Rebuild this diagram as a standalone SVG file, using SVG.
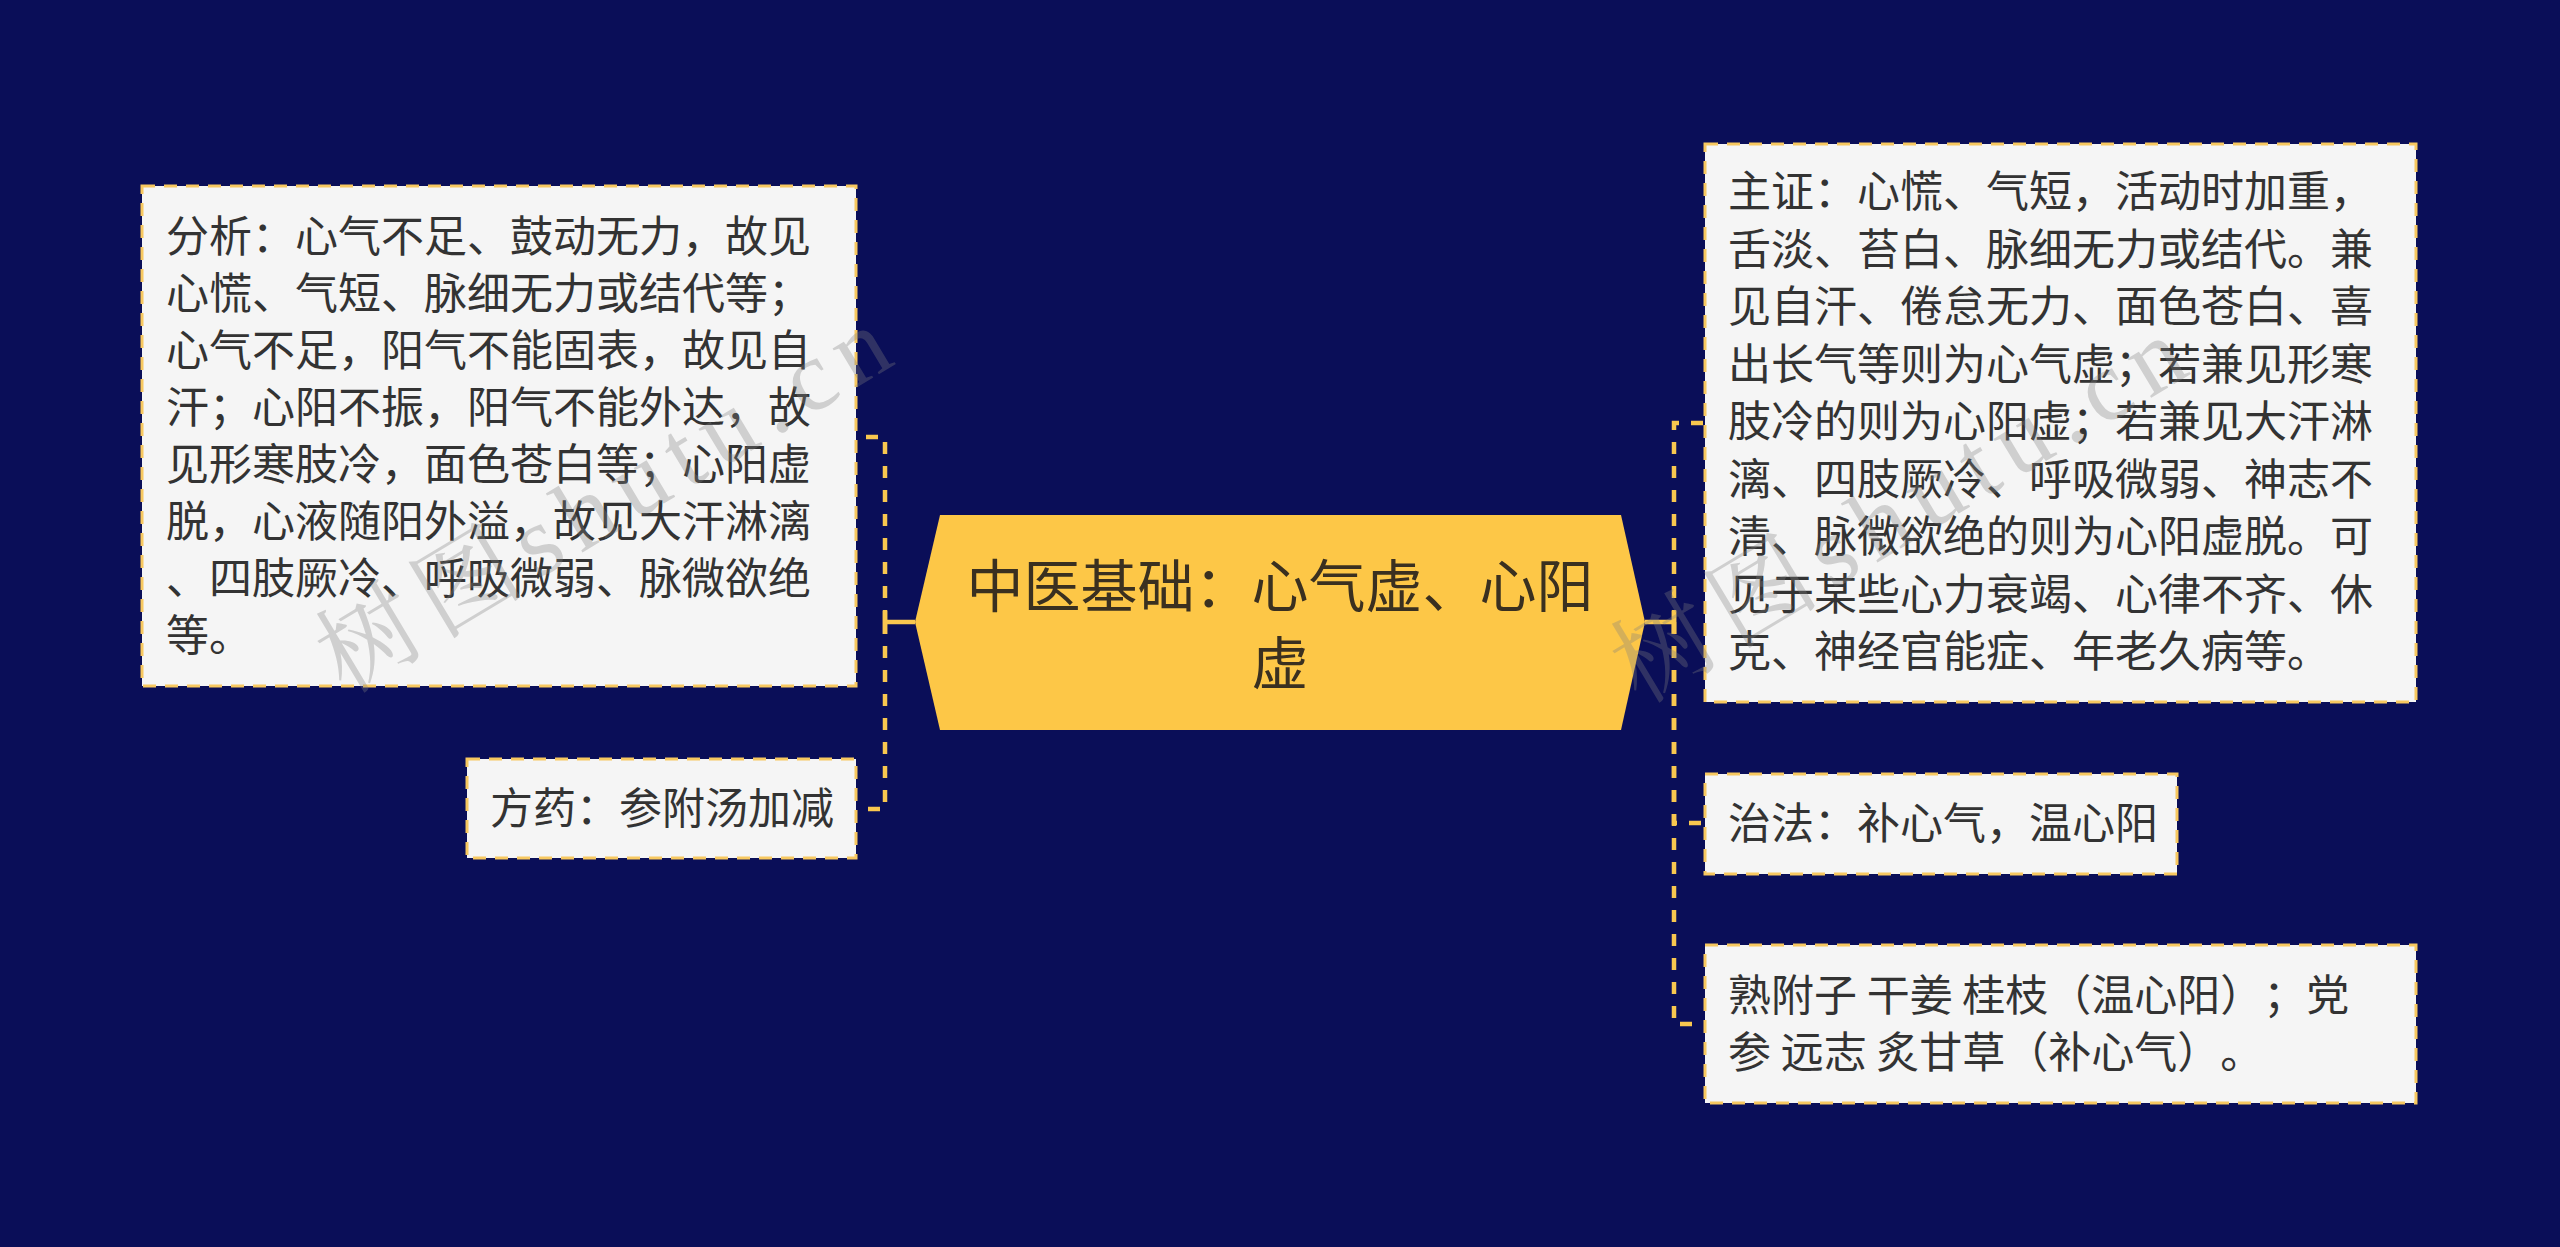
<svg xmlns="http://www.w3.org/2000/svg" width="2560" height="1247" viewBox="0 0 2560 1247">
<style>
.box{fill:#f5f5f5;stroke:#f7c860;stroke-width:3;stroke-dasharray:13 9}
.t{font-family:"Noto Sans CJK SC","Noto Sans",sans-serif;font-size:43px;fill:#333333;text-spacing-trim:space-all}
.ct{font-family:"Noto Sans CJK SC","Noto Sans",sans-serif;font-size:57px;fill:#3a3020;text-anchor:middle}
.dash{fill:none;stroke:#f9c74f;stroke-width:4.5;stroke-dasharray:12 12}
.solid{fill:none;stroke:#f9c74f;stroke-width:4.5}
.wm{font-family:"Liberation Serif","Noto Serif CJK SC","Noto Sans CJK SC",serif;font-size:100px;fill:#808080;opacity:0.32;letter-spacing:12px}
</style>
<rect width="2560" height="1247" fill="#0a0e58"/>
<g id="connectors">
<path class="solid" d="M915 622 H885 M885 611 V634"/>
<path class="dash" d="M885 622 V437 H856"/>
<path class="dash" d="M885 622 V809 H856"/>
<path class="solid" d="M1645 622 H1674 M1674 611 V634"/>
<path class="dash" d="M1674 622 V423 H1705"/>
<path class="dash" d="M1674 622 V823 H1705"/>
<path class="dash" d="M1674 622 V1024 H1705"/>
</g>
<g id="center">
<polygon points="940,515 1621,515 1645,622 1621,730 940,730 915,622" fill="#fdc747"/>
<text class="ct" x="1280" y="607">中医基础：心气虚、心阳</text>
<text class="ct" x="1280" y="684">虚</text>
</g>
<g id="analysis">
<rect class="box" x="142" y="186" width="714" height="500"/>
<text class="t" x="166" y="252">分析：心气不足、鼓动无力，故见</text>
<text class="t" x="166" y="309">心慌、气短、脉细无力或结代等；</text>
<text class="t" x="166" y="366">心气不足，阳气不能固表，故见自</text>
<text class="t" x="166" y="423">汗；心阳不振，阳气不能外达，故</text>
<text class="t" x="166" y="480">见形寒肢冷，面色苍白等；心阳虚</text>
<text class="t" x="166" y="537">脱，心液随阳外溢，故见大汗淋漓</text>
<text class="t" x="166" y="594">、四肢厥冷、呼吸微弱、脉微欲绝</text>
<text class="t" x="166" y="651">等。</text>
</g>
<g id="prescription">
<rect class="box" x="467" y="759" width="389" height="99"/>
<text class="t" x="490" y="824">方药：参附汤加减</text>
</g>
<g id="symptoms">
<rect class="box" x="1705" y="144" width="711" height="558"/>
<text class="t" x="1728" y="207">主证：心慌、气短，活动时加重，</text>
<text class="t" x="1728" y="264.5">舌淡、苔白、脉细无力或结代。兼</text>
<text class="t" x="1728" y="322">见自汗、倦怠无力、面色苍白、喜</text>
<text class="t" x="1728" y="379.5">出长气等则为心气虚；若兼见形寒</text>
<text class="t" x="1728" y="437">肢冷的则为心阳虚；若兼见大汗淋</text>
<text class="t" x="1728" y="494.5">漓、四肢厥冷、呼吸微弱、神志不</text>
<text class="t" x="1728" y="552">清、脉微欲绝的则为心阳虚脱。可</text>
<text class="t" x="1728" y="609.5">见于某些心力衰竭、心律不齐、休</text>
<text class="t" x="1728" y="667">克、神经官能症、年老久病等。</text>
</g>
<g id="treatment">
<rect class="box" x="1705" y="774" width="472" height="100"/>
<text class="t" x="1728" y="839">治法：补心气，温心阳</text>
</g>
<g id="herbs">
<rect class="box" x="1705" y="945" width="711" height="158"/>
<text class="t" x="1728" y="1011">熟附子 干姜 桂枝（温心阳）；党</text>
<text class="t" x="1728" y="1068">参 远志 炙甘草（补心气）。</text>
</g>
<g id="watermarks">
<text class="wm" transform="translate(345,695) rotate(-31)">树图shutu.cn</text>
<text class="wm" transform="translate(1640,705) rotate(-31)">树图shutu.cn</text>
</g>
</svg>
